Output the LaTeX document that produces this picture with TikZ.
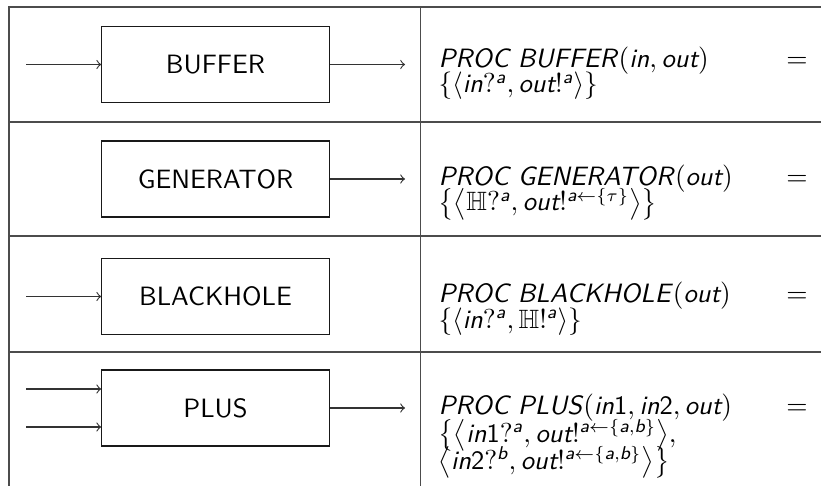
\documentclass[tikz,border=0pt]{standalone}
\usepackage{amsmath,amssymb}
\usepackage{fontspec}
\newcommand\iv[1]{\text{\normalfont\sffamily\itshape #1}}
\newcommand\uv[1]{\text{\normalfont\sffamily #1}}
\begin{document}
\begin{tikzpicture}[x=0.4pt,y=-0.4pt,
  grid/.style={draw=black!70,line width=0.45pt},
  procbox/.style={draw=black!90,line width=0.45pt,minimum width=91pt,minimum height=30.4pt,inner sep=0pt,font=\fontsize{10.6}{12.5}\selectfont\sffamily},
  conn/.style={draw=black!80,line width=0.45pt,->},
  deftext/.style={anchor=base west,inner sep=0pt,font=\fontsize{10.6}{12.5}\selectfont},
  eqsign/.style={anchor=base,inner sep=0pt,font=\fontsize{10.6}{12.5}\selectfont}]
\useasboundingbox (0,0) rectangle (821,486);
% table lines
\draw[grid] (9,486) -- (9,7) -- (821,7);
\draw[grid] (420.7,7) -- (420.7,486);
\draw[grid] (9,122) -- (821,122);
\draw[grid] (9,236) -- (821,236);
\draw[grid] (9,352) -- (821,352);
% boxes
\node[procbox] (buf) at (215.5,64.5) {BUFFER};
\node[procbox] (gen) at (215.5,179) {GENERATOR};
\node[procbox] (bh)  at (215.5,296.5) {BLACKHOLE};
\node[procbox] (plus) at (215.5,408) {PLUS};
% connector ends
\coordinate (bufin) at (26,64.5);
\coordinate (bufout) at (405,64.5);
\coordinate (genout) at (405,179);
\coordinate (bhin) at (26,296.5);
\coordinate (plusinA) at (26,389);
\coordinate (plusinB) at (26,427);
\coordinate (plusout) at (405,408);
\draw[conn] (bufin) -- (buf.west);
\draw[conn] (buf.east) -- (bufout);
\draw[conn] (gen.east) -- (genout);
\draw[conn] (bhin) -- (bh.west);
\draw[conn] (plusinA) -- (plusinA -| plus.west);
\draw[conn] (plusinB) -- (plusinB -| plus.west);
\draw[conn] (plus.east) -- (plusout);
% definitions
\node[deftext] (t1a) at (438,68) {\textsf{\textit{PROC BUFFER}}$(\iv{in}, \iv{out})$};
\node[deftext] (t1b) at (438,93) {$\{\langle \iv{in}?^{\iv{a}}, \iv{out}!^{\iv{a}}\rangle\}$};
\node[eqsign] (e1) at (797,68) {$=$};
\node[deftext] (t2a) at (438,186) {\textsf{\textit{PROC GENERATOR}}$(\iv{out})$};
\node[deftext] (t2b) at (438,211) {$\bigl\{\bigl\langle \mathbb{H}?^{\iv{a}}, \iv{out}!^{\iv{a}\leftarrow\{\tau\}}\bigr\rangle\bigr\}$};
\node[eqsign] (e2) at (797,186) {$=$};
\node[deftext] (t3a) at (438,303) {\textsf{\textit{PROC BLACKHOLE}}$(\iv{out})$};
\node[deftext] (t3b) at (438,328) {$\{\langle \iv{in}?^{\iv{a}}, \mathbb{H}!^{\iv{a}}\rangle\}$};
\node[eqsign] (e3) at (797,303) {$=$};
\node[deftext] (t4a) at (438,414) {\textsf{\textit{PROC PLUS}}$(\iv{in}\uv{1}, \iv{in}\uv{2}, \iv{out})$};
\node[deftext] (t4b) at (438,442) {$\bigl\{\bigl\langle \iv{in}\uv{1}?^{\iv{a}}, \iv{out}!^{\iv{a}\leftarrow\{\iv{a},\iv{b}\}}\bigr\rangle,$};
\node[deftext] (t4c) at (438,469) {$\bigl\langle \iv{in}\uv{2}?^{\iv{b}}, \iv{out}!^{\iv{a}\leftarrow\{\iv{a},\iv{b}\}}\bigr\rangle\bigr\}$};
\node[eqsign] (e4) at (797,414) {$=$};
\end{tikzpicture}
\end{document}
